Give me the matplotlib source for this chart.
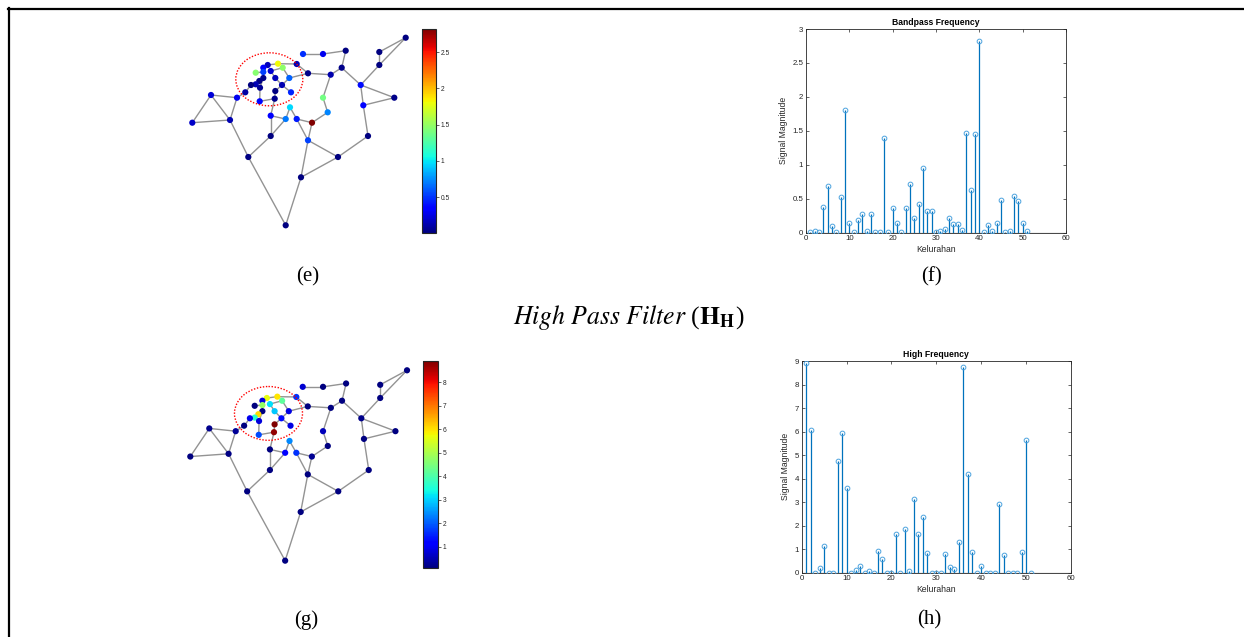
import numpy as np
import matplotlib
matplotlib.use("Agg")
import matplotlib.pyplot as plt
from matplotlib.patches import Ellipse
from matplotlib.lines import Line2D
from matplotlib.colors import Normalize
from matplotlib.cm import ScalarMappable

plt.rcParams["mathtext.fontset"] = "stix"

# ---------------- data ----------------
kelurahan = np.arange(1, 52)

bandpass = [0.01, 0.02, 0.005, 0.38, 0.69, 0.10, 0.005, 0.53, 1.81, 0.14,
            0.005, 0.19, 0.28, 0.03, 0.28, 0.005, 0.015, 1.39, 0.005, 0.36,
            0.14, 0.005, 0.37, 0.72, 0.21, 0.43, 0.96, 0.32, 0.32, 0.005,
            0.02, 0.06, 0.22, 0.13, 0.13, 0.04, 1.47, 0.63, 1.45, 2.82,
            0.01, 0.12, 0.03, 0.15, 0.48, 0.005, 0.03, 0.54, 0.46, 0.15,
            0.03]

highpass = [8.90, 6.08, 0.0, 0.18, 1.13, 0.0, 0.0, 4.76, 5.95, 3.59,
            0.0, 0.13, 0.28, 0.0, 0.07, 0.0, 0.94, 0.57, 0.0, 0.0,
            1.63, 0.0, 1.84, 0.06, 3.15, 1.63, 2.38, 0.85, 0.0, 0.0,
            0.0, 0.79, 0.23, 0.14, 1.30, 8.73, 4.18, 0.86, 0.0, 0.27,
            0.0, 0.0, 0.0, 2.93, 0.75, 0.0, 0.0, 0.0, 0.86, 5.65,
            0.0]

# graph layout (map position of each kelurahan node, screen-like units)
node_x = [405.7, 379.3, 379.3, 360.7, 394.3, 363.3, 368.0, 338.0, 301.0, 285.7,
          248.3, 270.7, 270.7, 285.7, 290.0, 296.7, 312.0, 308.0, 327.7, 323.0,
          330.7, 341.7, 345.7, 323.0, 303.0, 308.0, 296.7, 282.7, 278.0, 267.7,
          263.3, 270.7, 263.3, 255.7, 263.3, 275.3, 289.3, 282.0, 259.3, 255.7,
          251.0, 260.0, 245.3, 275.3, 291.0, 274.7, 259.7, 237.0, 211.0, 230.0,
          192.3]
node_y = [37.7, 52.0, 65.0, 85.0, 97.7, 105.3, 136.0, 157.0, 177.3, 225.3,
          157.0, 136.0, 115.7, 119.0, 107.3, 119.0, 122.7, 140.3, 112.3, 97.7,
          74.7, 67.7, 50.7, 54.0, 54.0, 73.3, 64.0, 67.7, 63.7, 65.0,
          67.7, 71.0, 72.0, 72.7, 78.0, 78.0, 78.0, 85.0, 81.0, 84.3,
          85.0, 87.7, 92.3, 91.0, 92.3, 98.7, 101.3, 97.7, 95.0, 120.0,
          122.7]
# which signal entry (1-based kelurahan number) each node shows
node_kel = [3, 7, 11, 4, 14, 20, 16, 19, 22, 30,
            31, 41, 29, 5, 27, 26, 40, 48, 24, 18,
            42, 43, 46, 15, 45, 47, 21, 37, 9, 50,
            28, 25, 8, 39, 51, 44, 38, 35, 2, 10,
            17, 32, 6, 1, 49, 36, 23, 13, 33, 34,
            12]
edges = [(1, 2), (1, 3), (2, 3), (3, 4), (4, 5), (4, 6), (5, 6), (6, 7), (7, 8),
         (8, 9), (8, 18), (9, 18), (9, 10), (10, 11), (11, 12), (11, 50),
         (12, 13), (12, 14), (13, 14), (14, 15), (15, 16), (16, 17), (16, 18),
         (17, 18), (17, 19), (19, 20), (20, 21), (21, 22), (21, 26), (22, 23),
         (22, 4), (23, 24), (24, 25), (26, 27), (26, 37), (30, 29), (29, 27),
         (28, 32), (28, 37), (31, 30), (31, 33), (32, 36), (33, 34), (33, 35),
         (35, 39), (36, 38), (37, 38), (38, 44), (38, 45), (39, 40), (40, 41),
         (41, 43), (35, 42), (42, 47), (47, 46), (46, 44), (46, 13),
         (43, 48), (48, 49), (48, 50), (49, 50), (49, 51), (50, 51)]

cb_ticks_e = [0.5, 1, 1.5, 2, 2.5]
cb_ticks_g = [1, 2, 3, 4, 5, 6, 7, 8]

# ---------------- figure ----------------
W, H = 1244, 637
fig = plt.figure(figsize=(W / 100, H / 100), dpi=100)
fig.patch.set_facecolor("white")

def px_axes(l, t, w, h):
    return fig.add_axes([l / W, 1 - (t + h) / H, w / W, h / H])

TXT = "#262626"
serif = ["Liberation Serif", "DejaVu Serif"]
sans = ["Liberation Sans", "DejaVu Sans"]

# outer frame (top and left)
fig.add_artist(Line2D([8 / W, 1], [1 - 9 / H, 1 - 9 / H], color="black", lw=1.6))
fig.add_artist(Line2D([9 / W, 9 / W], [0, 1 - 8 / H], color="black", lw=1.6))

def draw_graph(ax, values, vmin, vmax, ell_center):
    ax.set_xlim(180, 430)
    ax.set_ylim(235, 25)
    ax.axis("off")
    for a, b in edges:
        ax.plot([node_x[a - 1], node_x[b - 1]], [node_y[a - 1], node_y[b - 1]],
                color="#939393", lw=1.0, zorder=1, solid_capstyle="round")
    vals = [values[k - 1] for k in node_kel]
    ax.scatter(node_x, node_y, c=vals, cmap="jet", vmin=vmin, vmax=vmax,
               s=20, zorder=2, edgecolors="none")
    ax.add_patch(Ellipse(ell_center, 67, 53, fill=False, ec="red", lw=1.0,
                         ls=(0, (1, 1.2)), zorder=3))

def draw_cbar(cax, vmin, vmax, ticks):
    sm = ScalarMappable(norm=Normalize(vmin, vmax), cmap="jet")
    cb = fig.colorbar(sm, cax=cax, ticks=ticks)
    cb.outline.set_linewidth(0.8)
    cb.outline.set_edgecolor(TXT)
    cax.tick_params(labelsize=4.8, length=2, width=0.5, colors=TXT, pad=1.5)
    cax.set_yticklabels([f"{t:g}" for t in ticks], family=sans)

def draw_stem(ax, vals, ymax, title):
    ax.vlines(kelurahan, 0, vals, color="#0072BD", lw=0.9, zorder=2)
    ax.plot(kelurahan, vals, "o", mfc="none", mec="#4DA3DF", ms=3.4, mew=0.7,
            zorder=3)
    ax.axhline(0, color="black", lw=0.8, zorder=1)
    ax.set_xlim(0, 60)
    ax.set_ylim(0, ymax)
    ax.set_xticks(np.arange(0, 61, 10))
    ax.tick_params(direction="in", length=2.5, width=0.5, labelsize=5.7,
                   colors=TXT, top=True, right=True, pad=2)
    for lab in ax.get_xticklabels() + ax.get_yticklabels():
        lab.set_family(sans)
    for s in ax.spines.values():
        s.set_linewidth(0.6)
        s.set_color(TXT)
    ax.set_title(title, fontsize=6.2, fontweight="bold", family=sans, color="black",
                 pad=3)
    ax.set_xlabel("Kelurahan", fontsize=6.2, family=sans, color=TXT, labelpad=1.5)
    ax.set_ylabel("Signal Magnitude", fontsize=6.2, family=sans, color=TXT,
                  labelpad=3)

# (e) graph
axe = px_axes(180, 25, 250, 210)
vmin_e, vmax_e = min(bandpass), max(bandpass)
draw_graph(axe, bandpass, vmin_e, vmax_e, (269.3, 79.3))
draw_cbar(px_axes(422, 29, 13.7, 204), vmin_e, vmax_e, cb_ticks_e)

# (g) graph
axg = px_axes(177.8, 357.4, 253.9, 213.1)
vmin_g, vmax_g = 0.1, max(highpass)
draw_graph(axg, highpass, vmin_g, vmax_g, (269.3, 80.2))
draw_cbar(px_axes(423.3, 361, 14.4, 207), vmin_g, vmax_g, cb_ticks_g)

# (f) stem
axf = px_axes(806, 29, 260, 203.7)
draw_stem(axf, bandpass, 3, "Bandpass Frequency")
axf.set_yticks([0, 0.5, 1, 1.5, 2, 2.5, 3])
axf.set_yticklabels(["0", "0.5", "1", "1.5", "2", "2.5", "3"], family=sans)

# (h) stem
axh = px_axes(801.7, 361, 269.3, 211.7)
draw_stem(axh, highpass, 9, "High Frequency")
axh.set_yticks(range(0, 10))

# captions
def cap(x, y, s, **kw):
    fig.text(x / W, 1 - y / H, s, ha="center", va="center", **kw)

cap(308, 277, "(e)", fontsize=15, family=serif)
cap(931, 277, "(f)", fontsize=15, family=serif)
cap(306, 620, "(g)", fontsize=15, family=serif)
cap(929, 620, "(h)", fontsize=15, family=serif)
cap(629, 318, r"$\mathit{High\ Pass\ Filter}$ ($\mathbf{H}_{\mathbf{H}}$)",
    fontsize=18.5, family=serif)

fig.savefig("out.png", dpi=100, facecolor="white")
